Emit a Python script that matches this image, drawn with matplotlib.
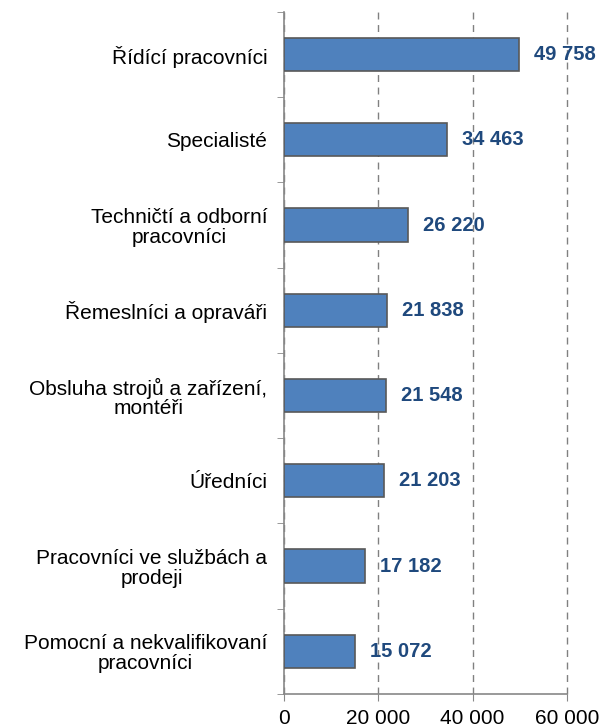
import numpy as np
import matplotlib.pyplot as plt

plt.rcParams['font.family'] = ['Liberation Sans', 'DejaVu Sans']

# Kategorie a průměrné mzdy
kategorie = [
    "Řídící pracovníci",
    "Specialisté",
    "Techničtí a odborní\npracovníci",
    "Řemeslníci a opraváři",
    "Obsluha strojů a zařízení,\nmontéři",
    "Úředníci",
    "Pracovníci ve službách a\nprodeji",
    "Pomocní a nekvalifikovaní\npracovníci",
]
mzdy = [49758, 34463, 26220, 21838, 21548, 21203, 17182, 15072]
xticks = [0, 20000, 40000, 60000]
xlabels = ["0", "20 000", "40 000", "60 000"]

fig = plt.figure(figsize=(6.01, 7.27), dpi=100)
ax = fig.add_axes([0.4725, 0.0454, 0.4709, 0.9381])

y = np.arange(len(kategorie))
ax.barh(y, mzdy, height=0.39, color="#4F81BD", edgecolor="#595959", linewidth=1.2, zorder=3)

for yi, v in zip(y, mzdy):
    ax.annotate(f"{v:,}".replace(",", " "), (v, yi), xytext=(11, 0), textcoords="offset points",
                va="center", ha="left", fontsize=14.5, fontweight="bold", color="#1F497D", zorder=4)

ax.set_xlim(0, 60000)
ax.set_ylim(len(kategorie) - 0.5, -0.5)
ax.set_xticks(xticks)
ax.set_xticklabels(xlabels, fontsize=15)
ax.set_yticks(y)
ax.set_yticklabels(kategorie, fontsize=15, ha="right", multialignment="center", linespacing=1.05)
ax.tick_params(axis="y", length=0, pad=12)
ax.set_yticks(np.arange(-0.5, len(kategorie)), minor=True)
ax.tick_params(axis="y", which="minor", length=5, color="#888888")
ax.tick_params(axis="x", length=5, color="#888888", pad=6)

ax.grid(axis="x", linestyle=(0, (5, 4)), color="#808080", linewidth=1, zorder=0)
for line in ax.get_xgridlines():
    line.set_clip_on(False)
for s in ["top", "right"]:
    ax.spines[s].set_visible(False)
for s in ["left", "bottom"]:
    ax.spines[s].set_color("#888888")
    ax.spines[s].set_linewidth(1.2)

fig.savefig("out.png", dpi=100)
